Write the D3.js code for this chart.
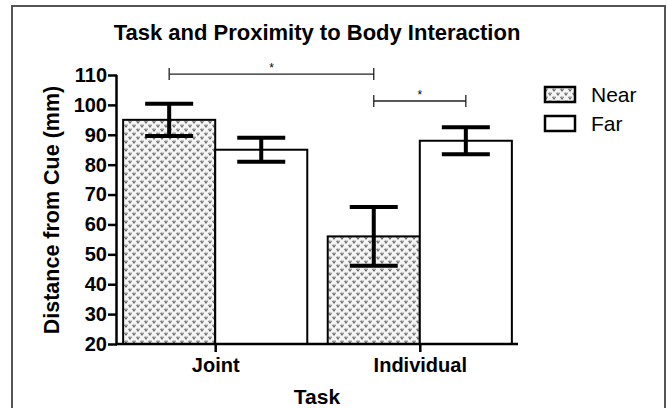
<!DOCTYPE html>
<html><head><meta charset="utf-8">
<script src="https://cdn.jsdelivr.net/npm/d3@7"></script>
<style>body{margin:0;background:#fff}svg{display:block}</style>
</head><body><svg id="c" width="667" height="408"></svg>
<script>
const categories = ["Joint", "Individual"];
const seriesNames = ["Near", "Far"];
const nearValues = [95, 56];
const farValues = [85, 88];
const nearErrors = [5.4, 9.8];
const farErrors = [4, 4.5];
const yTicks = [20, 30, 40, 50, 60, 70, 80, 90, 100, 110];
const sigBrackets = [
  {from: [0, "Near"], to: [1, "Near"], y: 110.3, label: "*"},
  {from: [1, "Near"], to: [1, "Far"], y: 101.3, label: "*"}
];

const svg = d3.select("#c");
const font = "Arial, 'Liberation Sans', sans-serif";

// frame
svg.append("path").attr("d", "M12,408 V6 H665 V408").attr("fill", "none")
  .attr("stroke", "#555").attr("stroke-width", 2);

// pattern
const defs = svg.append("defs");
const pat = defs.append("pattern").attr("id", "dots").attr("patternUnits", "userSpaceOnUse")
  .attr("width", 8).attr("height", 8);
pat.append("rect").attr("width", 8).attr("height", 8).attr("fill", "#f4f4f4");
const vshape = (x, y) => `M${x},${y} l1.5,2 l1.5,-2 M${x+0.2},${y} h1 M${x+2},${y} h1`;
pat.append("path").attr("d", vshape(0.5, 1) + vshape(4.5, 5))
  .attr("fill", "none").attr("stroke", "#666").attr("stroke-width", 1.1);

const y = d3.scaleLinear().domain([20, 110]).range([344, 75]);
const x0 = d3.scaleBand().domain(categories).range([117, 518]).paddingInner(0.1).paddingOuter(0.03);
const x1 = d3.scaleBand().domain(seriesNames).range([0, x0.bandwidth()]);

const data = categories.map((c, i) => ({c, vals: [
  {s: "Near", v: nearValues[i], e: nearErrors[i]},
  {s: "Far", v: farValues[i], e: farErrors[i]}]}));

const g = svg.append("g");
data.forEach(d => {
  d.vals.forEach(b => {
    const bx = x0(d.c) + x1(b.s);
    g.append("rect").attr("x", bx).attr("y", y(b.v)).attr("width", x1.bandwidth()).attr("height", y(20) - y(b.v))
      .attr("fill", b.s === "Near" ? "url(#dots)" : "#fff").attr("stroke", "#000").attr("stroke-width", 2);
  });
});
data.forEach(d => {
  d.vals.forEach(b => {
    const cx = x0(d.c) + x1(b.s) + x1.bandwidth() / 2;
    const hw = 24;
    g.append("path").attr("d",
      `M${cx},${y(b.v + b.e)} V${y(b.v - b.e)} M${cx-hw},${y(b.v + b.e)} H${cx+hw} M${cx-hw},${y(b.v - b.e)} H${cx+hw}`)
      .attr("stroke", "#000").attr("stroke-width", 4).attr("fill", "none");
  });
});

// axes
const yAxis = d3.axisLeft(y).tickValues(yTicks).tickSize(9).tickPadding(1);
const ya = svg.append("g").attr("transform", "translate(117,0)").call(yAxis);
ya.select(".domain").attr("stroke-width", 2.5).attr("d", `M-0.5,${y(110)} V${y(20)+1}`);
ya.selectAll(".tick line").attr("stroke-width", 2.5);
ya.selectAll("text").attr("font-family", font).attr("font-weight", "bold").attr("font-size", 20).attr("fill", "#000");

const xa = svg.append("g").attr("transform", `translate(0,${y(20)})`)
  .call(d3.axisBottom(d3.scalePoint().domain(categories).range([x0("Joint") + x0.bandwidth()/2, x0("Individual") + x0.bandwidth()/2])).tickSize(8).tickPadding(6));
xa.select(".domain").attr("d", `M116,0 H518`).attr("stroke-width", 2.5);
xa.selectAll(".tick line").attr("stroke-width", 2.5);
xa.selectAll("text").attr("font-family", font).attr("font-weight", "bold").attr("font-size", 20).attr("fill", "#000");

// significance
sigBrackets.forEach(s => {
  const xa_ = x0(categories[s.from[0]]) + x1(s.from[1]) + x1.bandwidth()/2;
  const xb_ = x0(categories[s.to[0]]) + x1(s.to[1]) + x1.bandwidth()/2;
  const yy = y(s.y);
  svg.append("path").attr("d", `M${xa_},${yy} H${xb_} M${xa_},${yy-6} V${yy+6} M${xb_},${yy-6} V${yy+6}`)
    .attr("stroke", "#222").attr("stroke-width", 1.3).attr("fill", "none");
  svg.append("text").attr("x", (xa_ + xb_)/2).attr("y", yy - 2).attr("text-anchor", "middle")
    .attr("font-family", font).attr("font-size", 12).text(s.label);
});

// titles
svg.append("text").attr("x", 317).attr("y", 40).attr("text-anchor", "middle").attr("font-family", font)
  .attr("font-weight", "bold").attr("font-size", 22).text("Task and Proximity to Body Interaction");
svg.append("text").attr("transform", `translate(59,210) rotate(-90)`).attr("text-anchor", "middle").attr("font-family", font)
  .attr("font-weight", "bold").attr("font-size", 21.5).text("Distance from Cue (mm)");
svg.append("text").attr("x", 317).attr("y", 404).attr("text-anchor", "middle").attr("font-family", font)
  .attr("font-weight", "bold").attr("font-size", 21).text("Task");

// legend
seriesNames.forEach((s, i) => {
  const ly = 87 + i * 29;
  svg.append("rect").attr("x", 545).attr("y", ly).attr("width", 30).attr("height", 15)
    .attr("fill", s === "Near" ? "url(#dots)" : "#fff").attr("stroke", "#000").attr("stroke-width", 2.5);
  svg.append("text").attr("x", 591).attr("y", ly + 15).attr("font-family", font).attr("font-size", 21).text(s);
});
</script></body></html>
